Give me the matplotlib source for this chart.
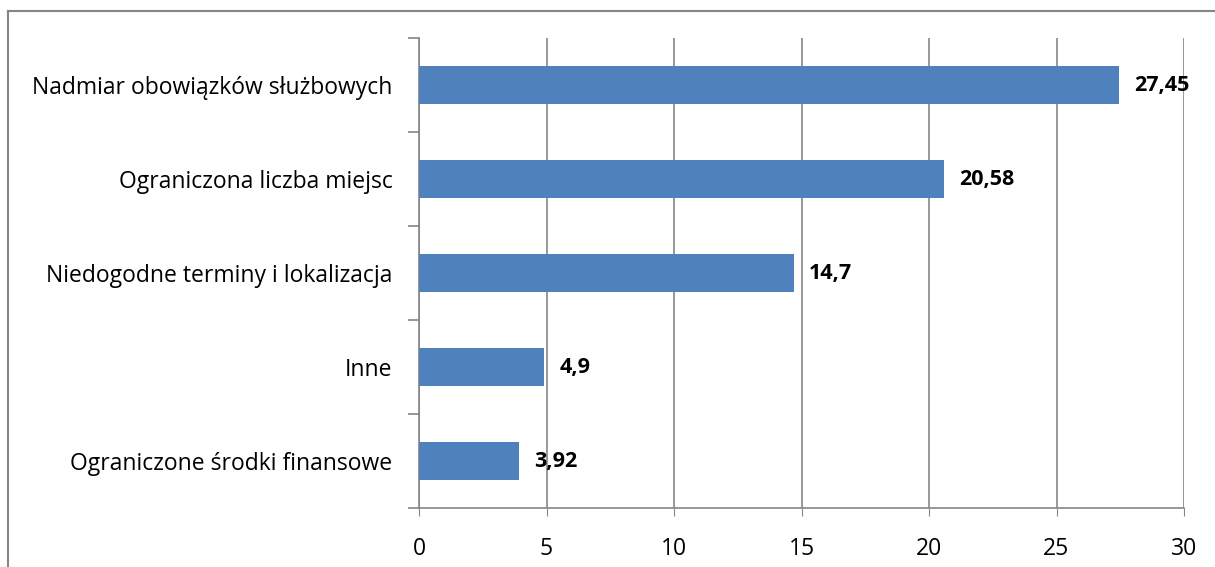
import matplotlib.pyplot as plt
from matplotlib.lines import Line2D

categories = ["Nadmiar obowiązków służbowych", "Ograniczona liczba miejsc",
              "Niedogodne terminy i lokalizacja", "Inne",
              "Ograniczone środki finansowe"]
values = [27.45, 20.58, 14.7, 4.9, 3.92]
value_labels = ["27,45", "20,58", "14,7", "4,9", "3,92"]

plt.rcParams['font.family'] = ['Open Sans', 'DejaVu Sans']

fig = plt.figure(figsize=(12.15, 5.67), dpi=100)
ax = fig.add_axes([419 / 1215, 1 - 508 / 567, (1184 - 419) / 1215, (508 - 38) / 567])

grey = '#868686'
# chart frame (runs off the page at right and bottom)
fx, fy = 8 / 1215, 1 - 11 / 567
fig.lines.append(Line2D([fx, fx], [0, fy], transform=fig.transFigure,
                        color=grey, linewidth=1.5))
fig.lines.append(Line2D([fx, 1], [fy, fy], transform=fig.transFigure,
                        color=grey, linewidth=1.5))

ypos = list(range(len(categories)))[::-1]
ax.barh(ypos, values, height=0.4, color='#4F81BD', zorder=3)
for y, v, lab in zip(ypos, values, value_labels):
    ax.text(v + 0.6, y, lab, va='center', ha='left', fontsize=15.5,
            fontweight='bold', zorder=4)

ax.set_xlim(0, 30)
ax.set_ylim(-0.5, len(categories) - 0.5)
ax.set_xticks(range(0, 31, 5))
ax.tick_params(axis='x', length=6, color=grey, labelsize=16.5, pad=15)
ax.set_yticks(ypos)
ax.set_yticklabels(categories, fontsize=16.5)
ax.set_yticks([i - 0.5 for i in range(len(categories) + 1)], minor=True)
ax.tick_params(axis='y', which='major', length=0, pad=19)
ax.tick_params(axis='y', which='minor', length=8, color=grey, width=1.2)

ax.grid(axis='x', color=grey, linewidth=1.2, zorder=0)
for s in ['top', 'right']:
    ax.spines[s].set_visible(False)
for s in ['left', 'bottom']:
    ax.spines[s].set_color(grey)
    ax.spines[s].set_linewidth(1.2)

fig.savefig('out.png', dpi=100)
